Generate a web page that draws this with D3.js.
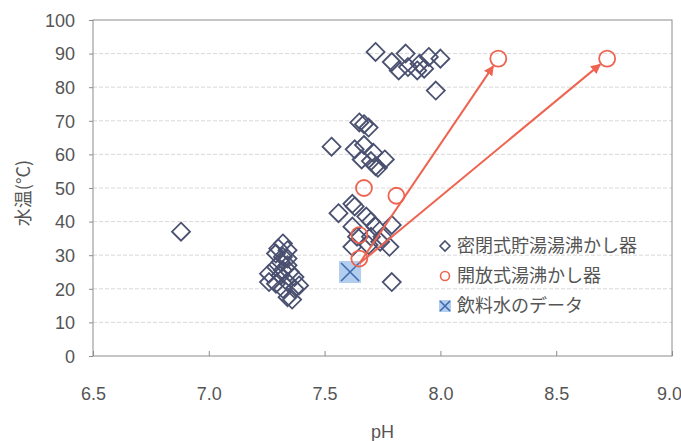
<!DOCTYPE html>
<html>
<head>
<meta charset="utf-8">
<script src="https://cdn.jsdelivr.net/npm/d3@7"></script>
<style>
  body { margin: 0; background: #fff; }
  svg text { font-family: "Liberation Sans", Arial, "Noto Sans CJK JP", sans-serif; fill: #555; }
  .jp { font-family: "Noto Sans CJK JP", sans-serif; }
</style>
</head>
<body>
<div id="chart"></div>
<script>
// 密閉式貯湯湯沸かし器 [pH, 水温]
var sealedData = [
  [6.88, 37],
  [7.30, 32], [7.32, 33.5], [7.34, 31.5], [7.29, 30.5], [7.32, 29.5], [7.34, 29],
  [7.31, 28], [7.34, 27], [7.29, 26.5], [7.32, 25.5], [7.35, 25], [7.26, 24.5],
  [7.31, 24], [7.37, 23.5], [7.26, 22], [7.29, 21.5], [7.34, 22], [7.39, 21],
  [7.32, 20], [7.37, 20], [7.34, 17.5], [7.36, 16.8],
  [7.53, 62.3], [7.65, 69.5], [7.67, 69], [7.69, 68], [7.63, 61.5], [7.67, 62.8],
  [7.71, 60.5], [7.66, 58.5], [7.70, 58], [7.72, 56.5], [7.73, 56], [7.76, 58.5],
  [7.56, 42.5], [7.62, 45.3], [7.63, 44.5], [7.68, 41.5], [7.70, 40], [7.62, 38.5],
  [7.72, 38.5], [7.79, 39], [7.64, 35.5], [7.70, 35.5], [7.75, 35.5], [7.74, 34],
  [7.62, 32.5], [7.78, 32.5], [7.69, 33], [7.79, 22],
  [7.72, 90.5], [7.79, 87.5], [7.85, 90], [7.82, 85], [7.86, 86], [7.91, 87],
  [7.95, 89], [7.90, 85], [7.93, 85.5], [8.00, 88.5], [7.98, 79]
];
// 開放式湯沸かし器
var openData = [[7.65, 36], [7.65, 29], [7.67, 50], [7.81, 47.7], [8.25, 88.5], [8.72, 88.5]];
// 飲料水のデータ
var waterData = [[7.61, 25]];
// arrows: start point and the two open-kettle targets
var arrowStart = [7.65, 27.5];
var arrowEnds = [[8.25, 88.5], [8.72, 88.5]];

var xTicks = [6.5, 7.0, 7.5, 8.0, 8.5, 9.0];
var yTicks = [0, 10, 20, 30, 40, 50, 60, 70, 80, 90, 100];
var legendLabels = ["密閉式貯湯湯沸かし器", "開放式湯沸かし器", "飲料水のデータ"];

var width = 681, height = 441;
var svg = d3.select("#chart").append("svg")
  .attr("width", width)
  .attr("height", height);

var x = d3.scaleLinear().domain([6.5, 9.0]).range([93, 672]);
var y = d3.scaleLinear().domain([0, 100]).range([356, 20]);

var defs = svg.append("defs");
defs.append("marker")
  .attr("id", "arrowHead")
  .attr("viewBox", "0 0 10 10")
  .attr("refX", 9).attr("refY", 5)
  .attr("markerWidth", 5).attr("markerHeight", 5)
  .attr("markerUnits", "strokeWidth")
  .attr("orient", "auto")
  .append("path")
  .attr("d", "M0,0 L10,5 L0,10 z")
  .attr("fill", "#ee6450");

// grid
svg.append("g").selectAll("line")
  .data(yTicks.slice(1, -1))
  .enter().append("line")
  .attr("x1", x(6.5)).attr("x2", x(9.0))
  .attr("y1", function (d) { return y(d); })
  .attr("y2", function (d) { return y(d); })
  .attr("stroke", "#d9d9d9")
  .attr("stroke-dasharray", "4,2");

// frame
svg.append("rect")
  .attr("x", x(6.5)).attr("y", y(100))
  .attr("width", x(9.0) - x(6.5))
  .attr("height", y(0) - y(100))
  .attr("fill", "none")
  .attr("stroke", "#8c8c8c");

// axes
var yAxis = svg.append("g")
  .attr("transform", "translate(" + x(6.5) + ",0)")
  .call(d3.axisLeft(y).tickValues(yTicks).tickSize(4).tickPadding(14));
var xAxis = svg.append("g")
  .attr("transform", "translate(0," + y(0) + ")")
  .call(d3.axisBottom(x).tickValues(xTicks).tickSize(-5).tickPadding(31)
    .tickFormat(d3.format(".1f")));
[xAxis, yAxis].forEach(function (a) {
  a.select(".domain").remove();
  a.selectAll("line").attr("stroke", "#8c8c8c");
  a.selectAll("text").attr("font-size", 18).style("fill", "#555");
});
yAxis.selectAll("text").attr("dy", "0.35em");
xAxis.selectAll(".tick text").filter(function (d) { return d === 9.0; }).attr("dx", -3);

svg.append("text")
  .attr("x", (x(6.5) + x(9.0)) / 2).attr("y", 438)
  .attr("text-anchor", "middle")
  .attr("font-size", 18)
  .text("pH");
svg.append("text")
  .attr("class", "jp")
  .attr("transform", "translate(24,193) rotate(-90)")
  .attr("text-anchor", "middle")
  .attr("dy", "0.35em")
  .attr("font-size", 18)
  .text("水温(°C)");

// drinking water marker
var water = svg.append("g").selectAll("g")
  .data(waterData).enter().append("g")
  .attr("transform", function (d) { return "translate(" + x(d[0]) + "," + y(d[1]) + ")"; });
water.append("rect")
  .attr("x", -11).attr("y", -11).attr("width", 22).attr("height", 22)
  .attr("fill", "#b3cdee");
water.append("path")
  .attr("d", "M-9,-9 L9,9 M-9,9 L9,-9")
  .attr("stroke", "#3d6cae").attr("stroke-width", 1.6);

// diamonds
var diamond = "M0,-9 L9,0 L0,9 L-9,0 Z";
svg.append("g").selectAll("path")
  .data(sealedData).enter().append("path")
  .attr("d", diamond)
  .attr("transform", function (d) { return "translate(" + x(d[0]) + "," + y(d[1]) + ")"; })
  .attr("fill", "none")
  .attr("stroke", "#4a5070")
  .attr("stroke-width", 1.8);

// arrows
svg.append("g").selectAll("line")
  .data(arrowEnds).enter().append("line")
  .each(function (d) {
    var x0 = x(arrowStart[0]), y0 = y(arrowStart[1]);
    var x1 = x(d[0]), y1 = y(d[1]);
    var len = Math.hypot(x1 - x0, y1 - y0), k = (len - 9) / len;
    d3.select(this)
      .attr("x1", x0).attr("y1", y0)
      .attr("x2", x0 + (x1 - x0) * k).attr("y2", y0 + (y1 - y0) * k);
  })
  .attr("stroke", "#ee6450")
  .attr("stroke-width", 2)
  .attr("marker-end", "url(#arrowHead)");

// open circles
svg.append("g").selectAll("circle")
  .data(openData).enter().append("circle")
  .attr("cx", function (d) { return x(d[0]); })
  .attr("cy", function (d) { return y(d[1]); })
  .attr("r", 8)
  .attr("fill", "none")
  .attr("stroke", "#ee6450")
  .attr("stroke-width", 1.8);

// legend
var legend = svg.append("g").attr("transform", "translate(445,246)");
var rows = legend.selectAll("g")
  .data(legendLabels).enter().append("g")
  .attr("transform", function (d, i) { return "translate(0," + i * 30 + ")"; });
rows.append("text")
  .attr("class", "jp")
  .attr("x", 12).attr("dy", "0.35em")
  .attr("font-size", 18)
  .text(function (d) { return d; });
rows.filter(function (d, i) { return i === 0; }).append("path")
  .attr("d", "M0,-5 L5,0 L0,5 L-5,0 Z")
  .attr("fill", "none").attr("stroke", "#4a5070").attr("stroke-width", 1.6);
rows.filter(function (d, i) { return i === 1; }).append("circle")
  .attr("r", 4.5)
  .attr("fill", "none").attr("stroke", "#ee6450").attr("stroke-width", 1.6);
var lx = rows.filter(function (d, i) { return i === 2; });
lx.append("rect")
  .attr("x", -6).attr("y", -6).attr("width", 12).attr("height", 12)
  .attr("fill", "#b3cdee");
lx.append("path")
  .attr("d", "M-5,-5 L5,5 M-5,5 L5,-5")
  .attr("stroke", "#3d6cae").attr("stroke-width", 1.6);
</script>
</body>
</html>
